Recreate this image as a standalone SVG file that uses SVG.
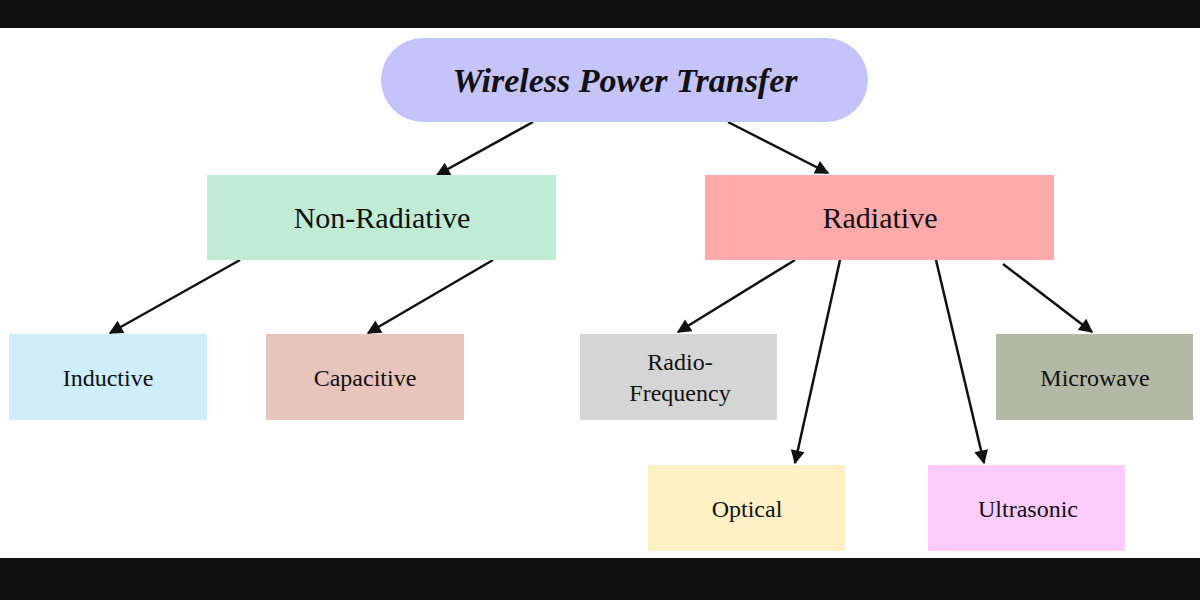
<svg xmlns="http://www.w3.org/2000/svg" width="1200" height="600" viewBox="0 0 1200 600">
<style>
text{font-family:"Liberation Serif","Times New Roman",serif;fill:#111;text-anchor:middle;dominant-baseline:central}
.t{font-size:34px;font-weight:bold;font-style:italic}
.m{font-size:30px}
.s{font-size:24px}
.c{stroke:#111;stroke-width:2.5;fill:none;marker-end:url(#a)}
</style>
<defs><marker id="a" viewBox="0 0 10 10" refX="9" refY="5" markerWidth="7" markerHeight="7" orient="auto" markerUnits="userSpaceOnUse"><path d="M0,0L10,5L0,10z" fill="#111"/></marker></defs>
<marker id="dummy"/>
<rect width="1200" height="600" fill="#fff"/>
<rect width="1200" height="28" fill="#111"/>
<rect y="558" width="1200" height="42" fill="#111"/>
<g id="connectors">
<line class="c" x1="533" y1="122" x2="437" y2="175" style="marker-end:url(#b)"/>
<line class="c" x1="728" y1="122" x2="828" y2="173" style="marker-end:url(#b)"/>
<line class="c" x1="240" y1="260" x2="110" y2="333" style="marker-end:url(#b)"/>
<line class="c" x1="493" y1="260" x2="368" y2="333" style="marker-end:url(#b)"/>
<line class="c" x1="795" y1="260" x2="678" y2="332" style="marker-end:url(#b)"/>
<line class="c" x1="840" y1="260" x2="795" y2="463" style="marker-end:url(#b)"/>
<line class="c" x1="936" y1="260" x2="984" y2="463" style="marker-end:url(#b)"/>
<line class="c" x1="1003" y1="264" x2="1092" y2="332" style="marker-end:url(#b)"/>
</g>
<defs><marker id="b" viewBox="0 0 10 10" refX="9" refY="5" markerWidth="16" markerHeight="14" orient="auto" markerUnits="userSpaceOnUse"><path d="M0,0L10,5L0,10z" fill="#111"/></marker></defs>
<g id="title"><rect x="381" y="38" width="487" height="84" rx="42" fill="#c4c4fa"/><text class="t" x="625" y="80">Wireless Power Transfer</text></g>
<g id="nonrad"><rect x="207" y="175" width="349" height="85" fill="#c0ecd6"/><text class="m" x="382" y="217">Non-Radiative</text></g>
<g id="rad"><rect x="705" y="175" width="349" height="85" fill="#fea9aa"/><text class="m" x="880" y="217">Radiative</text></g>
<g id="inductive"><rect x="9" y="334" width="198" height="86" fill="#cdeefa"/><text class="s" x="108" y="378">Inductive</text></g>
<g id="capacitive"><rect x="266" y="334" width="198" height="86" fill="#e7c5bd"/><text class="s" x="365" y="378">Capacitive</text></g>
<g id="rf"><rect x="580" y="334" width="197" height="86" fill="#d5d5d5"/><text class="s" x="680" y="362">Radio-</text><text class="s" x="680" y="393">Frequency</text></g>
<g id="microwave"><rect x="996" y="334" width="197" height="86" fill="#b3b9a4"/><text class="s" x="1095" y="378">Microwave</text></g>
<g id="optical"><rect x="648" y="465" width="197" height="86" fill="#fdf0c5"/><text class="s" x="747" y="509">Optical</text></g>
<g id="ultrasonic"><rect x="928" y="465" width="197" height="86" fill="#fcccfc"/><text class="s" x="1028" y="509">Ultrasonic</text></g>
</svg>
